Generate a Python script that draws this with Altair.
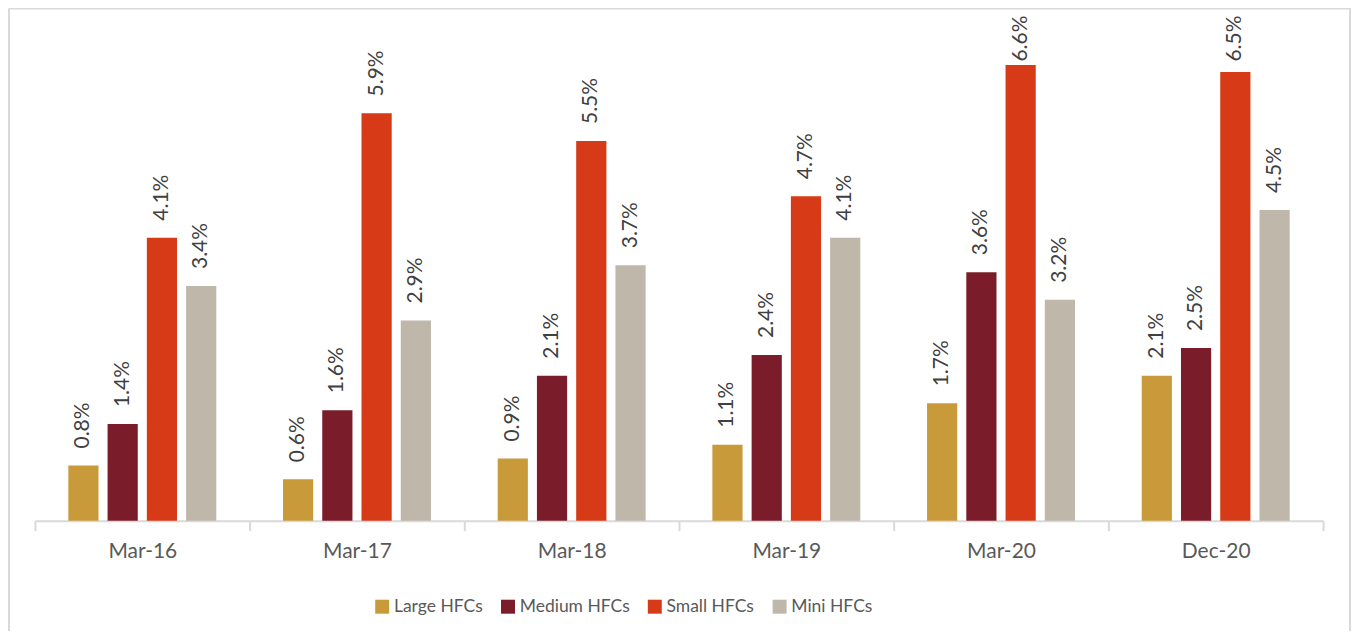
import altair as alt
import pandas as pd

periods = ["Mar-16", "Mar-17", "Mar-18", "Mar-19", "Mar-20", "Dec-20"]
series = ["Large HFCs", "Medium HFCs", "Small HFCs", "Mini HFCs"]
large = [0.8, 0.6, 0.9, 1.1, 1.7, 2.1]
medium = [1.4, 1.6, 2.1, 2.4, 3.6, 2.5]
small = [4.1, 5.9, 5.5, 4.7, 6.6, 6.5]
mini = [3.4, 2.9, 3.7, 4.1, 3.2, 4.5]
colors = ["#C99A3A", "#7B1C2A", "#D63A17", "#BFB7AA"]

rows = []
for s, vals in zip(series, [large, medium, small, mini]):
    for p, v in zip(periods, vals):
        rows.append({"period": p, "series": s, "value": v, "label": f"{v:.1f}%"})
df = pd.DataFrame(rows)

FONT = "Lato"
W, H = 1290, 484

x = alt.X("period:N", sort=periods, title=None,
          scale=alt.Scale(paddingInner=0, paddingOuter=0),
          axis=alt.Axis(labelAngle=0, domainColor="#D9D9D9", domainWidth=2,
                        tickColor="#D9D9D9", tickWidth=2, tickSize=10, tickBand="extent",
                        labelColor="#595959", labelFont=FONT, labelFontSize=21,
                        labelPadding=10, grid=False))
xo = alt.XOffset("series:N", sort=series,
                 scale=alt.Scale(paddingInner=0.2308, paddingOuter=0.85))
yscale = alt.Scale(domain=[0, 7])

bars = alt.Chart(df).mark_bar().encode(
    x=x, xOffset=xo,
    y=alt.Y("value:Q", scale=yscale, axis=None),
    color=alt.Color("series:N", sort=series,
                    scale=alt.Scale(domain=series, range=colors),
                    legend=alt.Legend(title=None, orient="none", legendX=339, legendY=561,
                                      direction="horizontal", columns=4,
                                      symbolType="square", symbolSize=196,
                                      symbolStrokeWidth=0,
                                      labelFont=FONT, labelFontSize=17.5,
                                      labelColor="#595959", labelOffset=3,
                                      columnPadding=16)),
)

labels = alt.Chart(df).transform_calculate(
    lab_y="min(datum.value + 0.246, 6.65)"
).mark_text(
    angle=270, align="left", baseline="middle",
    font=FONT, fontSize=21, color="#404040"
).encode(x=x, xOffset=xo,
         y=alt.Y("lab_y:Q", scale=yscale, axis=None),
         text="label:N")

one = alt.Data(values=[{"a": 1}])
border_left = alt.Chart(one).mark_rule(color="#D9D9D9", strokeWidth=2).encode(
    x=alt.value(-26), y=alt.value(-29), y2=alt.value(H + 130))
border_top = alt.Chart(one).mark_rule(color="#D9D9D9", strokeWidth=2).encode(
    x=alt.value(-26), x2=alt.value(W + 28), y=alt.value(-29))
border_right = alt.Chart(one).mark_rule(color="#D9D9D9", strokeWidth=2).encode(
    x=alt.value(W + 27), y=alt.value(-29), y2=alt.value(H + 130))

chart = alt.layer(bars, labels, border_left, border_top, border_right).properties(
    width=W, height=H,
    autosize=alt.AutoSizeParams(type="none"),
    padding={"left": 27, "top": 29, "right": 28, "bottom": 110},
).configure_view(stroke=None)

chart.save("out.html", embed_options={"renderer": "svg", "actions": False})
